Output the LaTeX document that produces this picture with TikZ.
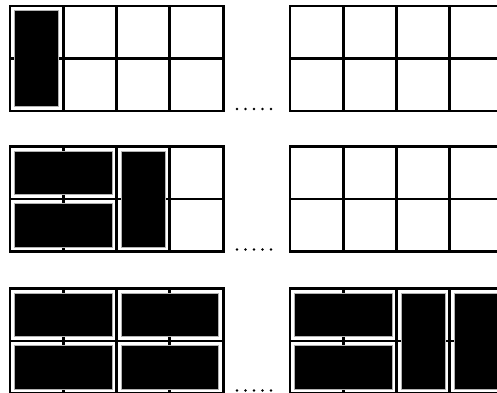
\documentclass[tikz,border=0pt]{standalone}
\newcommand\mygrid[2]{%
  \foreach \i in {0,...,4} \draw[gridline] ({#1+\i*53.3},#2) -- ({#1+\i*53.3},{#2+105});
  \foreach \j in {0,1,2} \draw[gridline] (#1,{#2+\j*52.5}) -- ({#1+213.2},{#2+\j*52.5});}
\newcommand\mydom[6]{%
  \draw[domino] ({#1+#3*53.3+4.5},{#2+#4*52.5+4.5}) rectangle ({#1+(#3+#5)*53.3-4.5},{#2+(#4+#6)*52.5-4.2});}
\newcommand\mydots[1]{%
  \foreach \k in {0,...,4} \fill[black] ({237+\k*8.5},#1) circle (1.4);}
\begin{document}
\begin{tikzpicture}[x=1pt,y=-1pt,
  gridline/.style={line width=2.9pt, line cap=rect},
  domino/.style={fill=black, draw=gray!60, line width=0.7pt}]
\useasboundingbox (0,0) rectangle (497,392);
\clip (0,0) rectangle (497,392);
% row 1
\mygrid{10}{6}
\mygrid{290}{6}
\mydom{10}{6}{0}{0}{1}{2}
\mydots{109}
% row 2
\mygrid{10}{146.5}
\mygrid{290}{146.5}
\mydom{10}{146.5}{0}{0}{2}{1}
\mydom{10}{146.5}{0}{1}{2}{1}
\mydom{10}{146.5}{2}{0}{1}{2}
\mydots{249.5}
% row 3
\mygrid{10}{288.5}
\mygrid{290}{288.5}
\mydom{10}{288.5}{0}{0}{2}{1}
\mydom{10}{288.5}{0}{1}{2}{1}
\mydom{10}{288.5}{2}{0}{2}{1}
\mydom{10}{288.5}{2}{1}{2}{1}
\mydom{290}{288.5}{0}{0}{2}{1}
\mydom{290}{288.5}{0}{1}{2}{1}
\mydom{290}{288.5}{2}{0}{1}{2}
\mydom{290}{288.5}{3}{0}{1}{2}
\mydots{390.5}
\end{tikzpicture}
\end{document}
